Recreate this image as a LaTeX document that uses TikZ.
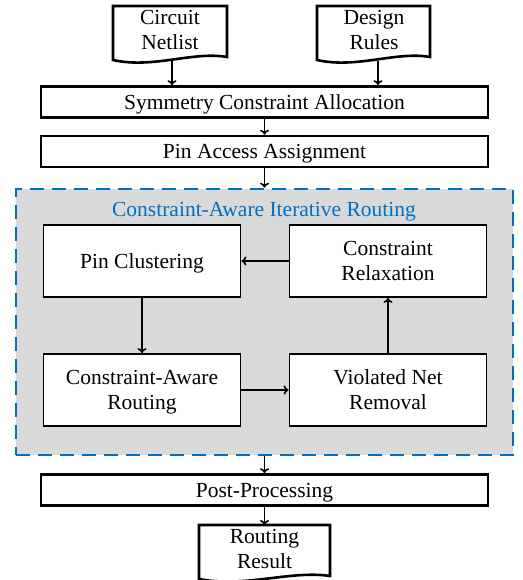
\documentclass[tikz,border=0pt]{standalone}
\usepackage{fontspec}
\setmainfont{Liberation Serif}
\usetikzlibrary{arrows.meta}

\definecolor{iterblue}{RGB}{0,112,192}
\definecolor{itergray}{RGB}{217,217,217}

% document shape with a wavy bottom: x0, x1, top, bottom
\newcommand{\docshape}[4]{%
  \draw[line width=2.6pt, fill=white] (#1,#3) -- (#2,#3) -- (#2,#4-3)
    .. controls (#1+0.7*#2-0.7*#1, #4-9) and (#1+0.35*#2-0.35*#1, #4+9) .. (#1,#4) -- cycle;}

\begin{document}
\begin{tikzpicture}[x=1pt, y=-1pt,
    every node/.style={font=\fontsize{21.5}{25}\selectfont},
    widebox/.style={draw, line width=2.6pt, minimum width=447pt, minimum height=31pt, inner sep=0pt, text depth=0pt},
    stepbox/.style={draw, fill=white, line width=1.8pt, minimum width=197pt, minimum height=72pt, align=center, inner sep=0pt, text depth=0pt},
    flow/.style={-{To[length=5pt, width=9pt]}, line width=1.6pt}]
\useasboundingbox (0,0) rectangle (522,580);

% inputs
\docshape{113}{227}{6}{60}
\docshape{317}{430}{6}{60}
\node[align=center] (netlist) at (170,30) {Circuit\\Netlist};
\node[align=center] (rules) at (374,30) {Design\\Rules};
\coordinate (netlist-b) at (172,61);
\coordinate (rules-b) at (378,61);

\node[widebox] (sca) at (264.5,102) {Symmetry Constraint Allocation};
\node[widebox] (pa) at (264.5,151.5) {Pin Access Assignment};

% iterative routing
\node[draw=iterblue, fill=itergray, line width=2.6pt, dash pattern=on 14pt off 8pt,
      minimum width=497pt, minimum height=266pt, inner sep=0pt] (iter) at (264.5,322) {};
\node[text=iterblue, text depth=0pt] (title) at (264,209) {Constraint-Aware Iterative Routing};

\node[stepbox] (pc) at (142,261) {Pin Clustering};
\node[stepbox] (cr) at (388,261) {Constraint\\Relaxation};
\node[stepbox] (car) at (142,390) {Constraint-Aware\\Routing};
\node[stepbox] (vnr) at (388,390) {Violated Net\\Removal};

\node[widebox] (post) at (264.5,490) {Post-Processing};

% output
\docshape{199}{330}{525}{579}
\node[align=center] (result) at (264.5,549) {Routing\\Result};
\coordinate (result-t) at (264.5,525);

\draw[flow] (netlist-b) -- (netlist-b |- sca.north);
\draw[flow] (rules-b) -- (rules-b |- sca.north);
\draw[flow] (sca) -- (pa);
\draw[flow] (pa) -- (iter);
\draw[flow] (cr) -- (pc);
\draw[flow] (pc) -- (car);
\draw[flow] (car) -- (vnr);
\draw[flow] (vnr) -- (cr);
\draw[flow] (iter) -- (post);
\draw[flow] (post) -- (result-t);
\end{tikzpicture}
\end{document}
